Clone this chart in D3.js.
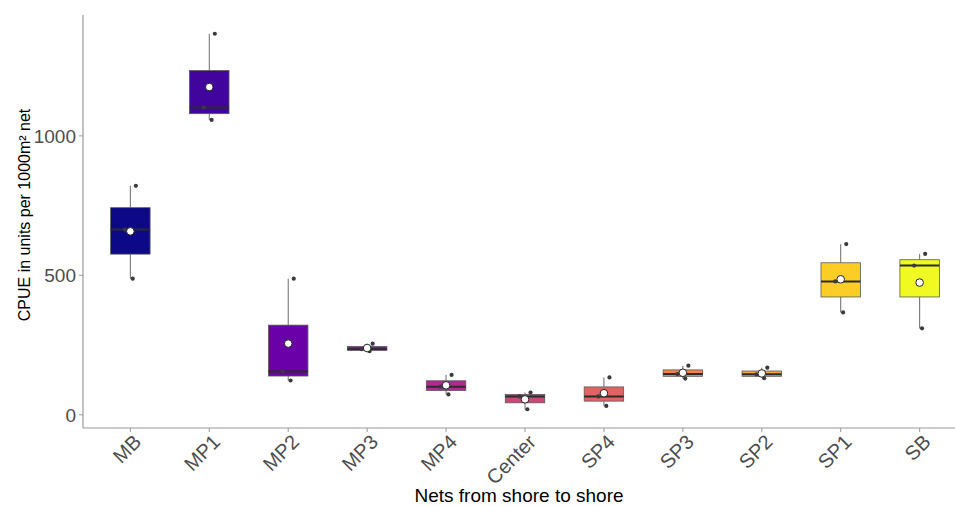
<!DOCTYPE html>
<html>
<head>
<meta charset="utf-8">
<script src="https://cdn.jsdelivr.net/npm/d3@7"></script>
<style>
  html, body { margin: 0; padding: 0; background: #fff; }
  svg { display: block; font-family: Arial, "Liberation Sans", sans-serif; }
</style>
</head>
<body>
<svg id="chart" width="955" height="506"></svg>
<script>
// ---- Data (CPUE per net, three samples each) ----
const categories = ["MB", "MP1", "MP2", "MP3", "MP4", "Center", "SP4", "SP3", "SP2", "SP1", "SB"];
const samples = [
  [488, 664, 821],
  [1057, 1102, 1366],
  [123, 155, 488],
  [228, 235, 255],
  [73, 101, 143],
  [20, 66, 80],
  [32, 66, 134],
  [130, 146, 176],
  [131, 145, 169],
  [367, 478, 612],
  [310, 535, 577]
];
const yTicks = [0, 500, 1000];
const colors = ["#0D0887", "#41049D", "#6A00A8", "#8F0DA4", "#B12A90", "#CC4778", "#E16462", "#F2844B", "#FCA636", "#FCCE25", "#F0F921"];
const xTitle = "Nets from shore to shore";
const yTitle = "CPUE in units per 1000m² net";

// ---- Layout ----
const W = 955, H = 506;
const panel = { left: 83, right: 967, top: 15, bottom: 428 };

const svg = d3.select("#chart");

// discrete axis with 0.6 expansion on each side
const x = d3.scalePoint()
  .domain(categories)
  .range([panel.left, panel.right])
  .padding(0.6);
const step = x.step();

const allVals = samples.flat();
const yMin = d3.min(allVals), yMax = d3.max(allVals);
const pad = (yMax - yMin) * 0.05;
const y = d3.scaleLinear()
  .domain([yMin - pad, yMax + pad])
  .range([panel.bottom, panel.top]);

const stats = samples.map((vals, i) => {
  const s = vals.slice().sort(d3.ascending);
  const q1 = d3.quantile(s, 0.25), med = d3.quantile(s, 0.5), q3 = d3.quantile(s, 0.75);
  const iqr = q3 - q1;
  const lo = d3.min(s.filter(v => v >= q1 - 1.5 * iqr));
  const hi = d3.max(s.filter(v => v <= q3 + 1.5 * iqr));
  return { cat: categories[i], vals: s, q1, med, q3, lo, hi, mean: d3.mean(s), color: colors[i] };
});

const boxW = step * 0.5;
const g = svg.append("g");

// whiskers
g.selectAll("line.whisk-up").data(stats).join("line")
  .attr("x1", d => x(d.cat)).attr("x2", d => x(d.cat))
  .attr("y1", d => y(d.q3)).attr("y2", d => y(d.hi))
  .attr("stroke", "#6b6b6b").attr("stroke-width", 1);
g.selectAll("line.whisk-dn").data(stats).join("line")
  .attr("x1", d => x(d.cat)).attr("x2", d => x(d.cat))
  .attr("y1", d => y(d.q1)).attr("y2", d => y(d.lo))
  .attr("stroke", "#6b6b6b").attr("stroke-width", 1);

// boxes
g.selectAll("rect.box").data(stats).join("rect")
  .attr("x", d => x(d.cat) - boxW / 2)
  .attr("width", boxW)
  .attr("y", d => y(d.q3))
  .attr("height", d => Math.max(1, y(d.q1) - y(d.q3)))
  .attr("fill", d => d.color)
  .attr("stroke", "#5a5a5a").attr("stroke-width", 0.8);

// medians
g.selectAll("line.med").data(stats).join("line")
  .attr("x1", d => x(d.cat) - boxW / 2).attr("x2", d => x(d.cat) + boxW / 2)
  .attr("y1", d => y(d.med)).attr("y2", d => y(d.med))
  .attr("stroke", "#2b2b2b").attr("stroke-width", 2);

// jittered sample points (small deterministic offsets)
const jitterPattern = [0.03, -0.07, 0.07];
const pts = stats.flatMap(d => d.vals.map((v, j) => ({ cat: d.cat, v, j })));
g.selectAll("circle.pt").data(pts).join("circle")
  .attr("cx", d => x(d.cat) + jitterPattern[d.j] * step)
  .attr("cy", d => y(d.v))
  .attr("r", 2.1)
  .attr("fill", "#3a3a3a");

// means
g.selectAll("circle.mean").data(stats).join("circle")
  .attr("cx", d => x(d.cat))
  .attr("cy", d => y(d.mean))
  .attr("r", 3.8)
  .attr("fill", "#fff")
  .attr("stroke", "#222").attr("stroke-width", 1);

// ---- Axes ----
const axisColor = "#9a9a9a";
svg.append("line")
  .attr("x1", panel.left).attr("x2", panel.left)
  .attr("y1", panel.top).attr("y2", panel.bottom)
  .attr("stroke", axisColor).attr("stroke-width", 1.2);
svg.append("line")
  .attr("x1", panel.left).attr("x2", W)
  .attr("y1", panel.bottom).attr("y2", panel.bottom)
  .attr("stroke", axisColor).attr("stroke-width", 1.2);

// y ticks
const yAxis = svg.append("g");
yAxis.selectAll("line").data(yTicks).join("line")
  .attr("x1", panel.left - 4).attr("x2", panel.left)
  .attr("y1", d => y(d)).attr("y2", d => y(d))
  .attr("stroke", axisColor).attr("stroke-width", 1);
yAxis.selectAll("text").data(yTicks).join("text")
  .attr("x", panel.left - 7)
  .attr("y", d => y(d))
  .attr("dy", "0.36em")
  .attr("text-anchor", "end")
  .attr("fill", "#4d4d4d")
  .style("font-size", "19px")
  .text(d => d);

// x ticks
const xAxis = svg.append("g");
xAxis.selectAll("line").data(categories).join("line")
  .attr("x1", d => x(d)).attr("x2", d => x(d))
  .attr("y1", panel.bottom).attr("y2", panel.bottom + 4)
  .attr("stroke", axisColor).attr("stroke-width", 1);
xAxis.selectAll("text").data(categories).join("text")
  .attr("transform", d => `translate(${x(d) + 2},${panel.bottom + 5}) rotate(-45)`)
  .attr("text-anchor", "end")
  .attr("dy", "0.72em")
  .attr("fill", "#4d4d4d")
  .style("font-size", "20px")
  .text(d => d);

// titles
svg.append("text")
  .attr("x", (panel.left + 955) / 2)
  .attr("y", 502)
  .attr("text-anchor", "middle")
  .attr("fill", "#000")
  .style("font-size", "19px")
  .text(xTitle);

svg.append("text")
  .attr("transform", `translate(30,215) rotate(-90)`)
  .attr("text-anchor", "middle")
  .attr("fill", "#000")
  .style("font-size", "16px")
  .text(yTitle);
</script>
</body>
</html>
